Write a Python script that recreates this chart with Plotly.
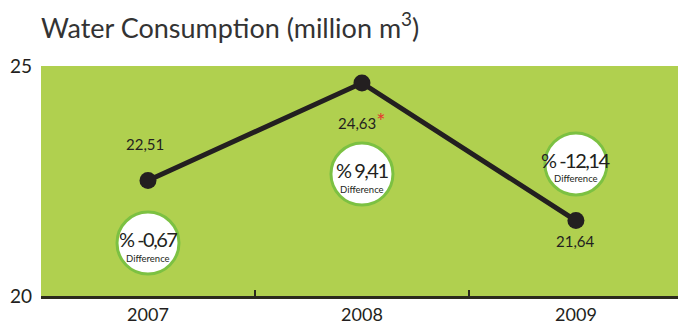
import plotly.graph_objects as go

years = ["2007", "2008", "2009"]
consumption = [22.51, 24.63, 21.64]
value_labels = ["22,51", "24,63<span style='color:#e53a2f;font-size:22px'>*</span>", "21,64"]
diff_labels = ["% -0,67", "% 9,41", "% -12,14"]
diff_sub = "Difference"

# placement of the difference bubbles (data units on y)
bubble_y = [21.15, 22.65, 22.87]
# pixel offsets of value labels relative to points
label_dx = [-3, 0, 0]
label_dy = [-37, 37, 20]

GREEN = "#b0d04f"
RING = "#7cc142"
DARK = "#231f20"
FONT = "Lato"

fig = go.Figure()

fig.add_trace(go.Scatter(
    x=years, y=bubble_y, mode="markers",
    marker=dict(size=62, color="white", line=dict(color=RING, width=3)),
    hoverinfo="skip", showlegend=False,
))

fig.add_trace(go.Scatter(
    x=years, y=consumption, mode="lines+markers",
    line=dict(color=DARK, width=5),
    marker=dict(size=17, color=DARK),
    showlegend=False,
))

for i, yr in enumerate(years):
    fig.add_annotation(x=i, y=consumption[i], text=value_labels[i], showarrow=False,
                       xshift=label_dx[i], yshift=-label_dy[i],
                       font=dict(family=FONT, size=15, color=DARK))
    fig.add_annotation(x=i, y=bubble_y[i],
                       text="<span style='letter-spacing:-1.5px'>" + diff_labels[i] + "</span>",
                       showarrow=False,
                       yshift=4, font=dict(family=FONT, size=20, color=DARK))
    fig.add_annotation(x=i, y=bubble_y[i], text=diff_sub, showarrow=False,
                       yshift=-15, font=dict(family=FONT, size=9.5, color=DARK))

fig.update_layout(
    width=678, height=332,
    margin=dict(l=41, r=0, t=66, b=36),
    paper_bgcolor="white", plot_bgcolor=GREEN,
    title=dict(text="Water Consumption (million m<sup>3</sup>)", x=0, xref="paper",
               xanchor="left", y=0.915, yanchor="middle",
               font=dict(family=FONT, size=27, color="#333333")),
    font=dict(family=FONT, color=DARK),
)
fig.update_xaxes(
    type="category", range=[-0.5, 2.477], showgrid=False, zeroline=False,
    showline=True, linecolor="#2b2a1c", linewidth=3,
    ticks="inside", tickson="boundaries", ticklen=6, tickwidth=2, tickcolor="#2b2a1c",
    tickfont=dict(family=FONT, size=18, color=DARK),
)
fig.update_yaxes(
    range=[20, 25], tickvals=[20, 25], ticktext=["20", "25"], showgrid=False, zeroline=False,
    showline=False, ticks="", ticklabelstandoff=8,
    tickfont=dict(family=FONT, size=19, color=DARK),
)

fig.write_html("out.html")
